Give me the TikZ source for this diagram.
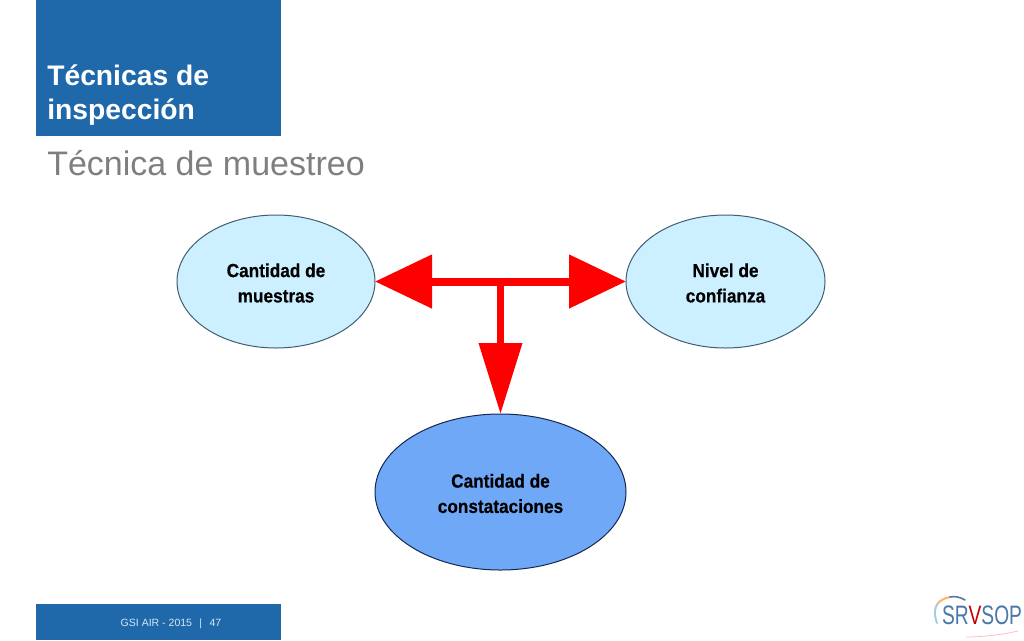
\documentclass[tikz,border=0pt]{standalone}
\usepackage{fontspec}
\setmainfont{Liberation Sans}
\newfontfamily\ovalfont[FakeStretch=0.91,FakeBold=0.4]{Liberation Sans Bold}
\newfontfamily\logofont[FakeStretch=0.72]{Liberation Sans}
\usetikzlibrary{arrows.meta,shapes.geometric}
\definecolor{band}{HTML}{1F69AB}
\definecolor{lightell}{HTML}{CCF0FF}
\definecolor{darkell}{HTML}{70A8F8}
\definecolor{edgeA}{HTML}{3F5F70}
\definecolor{edgeB}{HTML}{14284F}
\definecolor{greytitle}{HTML}{7F7F7F}
\definecolor{footer}{HTML}{D5E8F5}
\definecolor{logoblue}{HTML}{4A78A8}
\newcommand{\nudge}{\rule{0pt}{12.5pt}}
\tikzset{
  x=0.75pt,y=-0.75pt,
  oval/.style={ellipse,draw,line width=0.75pt,inner sep=0pt,outer sep=0pt,align=center,text=black,font=\fontsize{14.2pt}{19pt}\ovalfont},
  bigarrow/.style={red,line width=6pt,{Triangle[length=42.75pt,width=39pt]}-{Triangle[length=42.75pt,width=39pt]}},
  downarrow/.style={red,line width=5.25pt,-{Triangle[length=53.25pt,width=31.5pt]}},
  bandbox/.style={fill=band,draw=none,inner sep=0pt,outer sep=0pt},
}
\begin{document}
\begin{tikzpicture}
\useasboundingbox (0,0) rectangle (1024,640);
\fill[white] (0,0) rectangle (1024,640);
\node[bandbox,minimum width=183.5pt,minimum height=102pt,anchor=north west] (head) at (36,0) {};
\node[bandbox,minimum width=183.5pt,minimum height=27pt,anchor=north west] (foot) at (36,604) {};
\node[anchor=west,text=white,align=left,inner sep=0pt,font=\fontsize{21.2pt}{25.5pt}\selectfont\bfseries] (t1) at (47,95.5) {Técnicas de\\inspección};
\node[anchor=west,text=greytitle,inner sep=0pt,font=\fontsize{25.5pt}{30pt}\selectfont] (t2) at (47,163.5) {Técnica de muestreo};
\node[anchor=center,text=footer,inner sep=0pt,font=\fontsize{7.9pt}{9pt}\selectfont] (f1) at (171,623.5) {GSI AIR - 2015\hspace{0.7em}|\hspace{0.7em}47};
\node[oval,fill=lightell,draw=edgeA,minimum width=148.5pt,minimum height=99.75pt] (a) at (276,281.5) {\nudge Cantidad de\\muestras};
\node[oval,fill=lightell,draw=edgeA,minimum width=149.25pt,minimum height=99.75pt] (b) at (725.5,281.5) {\nudge Nivel de\\confianza};
\node[oval,fill=darkell,draw=edgeB,minimum width=188.25pt,minimum height=117pt] (c) at (500.5,492) {\nudge Cantidad de\\constataciones};
\coordinate (j) at (c.north |- a.east);
\draw[downarrow] (j) -- (c.north);
\draw[bigarrow] (a.east) -- (b.west);
% logo
\draw[line width=1.5pt,line cap=round,color=lightell!70!logoblue] (937,623) .. controls (934,615) and (934,608) .. (938,603);
\draw[line width=1.5pt,line cap=round,color=orange!60] (938,603) .. controls (941,600) and (945,598) .. (950,597);
\draw[line width=1.2pt,line cap=round,color=logoblue!70!gray] (950,597) .. controls (955,596) and (960,597) .. (965,600);
\draw[line width=0.6pt,color=red!25] (966,637) .. controls (985,637) and (1005,634) .. (1018,631);
\node[anchor=center,inner sep=0pt,font=\fontsize{20pt}{22pt}\logofont,text=logoblue] (logo) at (982,615) {SR\textcolor{red!75!black}{V}SOP};
\end{tikzpicture}
\end{document}
